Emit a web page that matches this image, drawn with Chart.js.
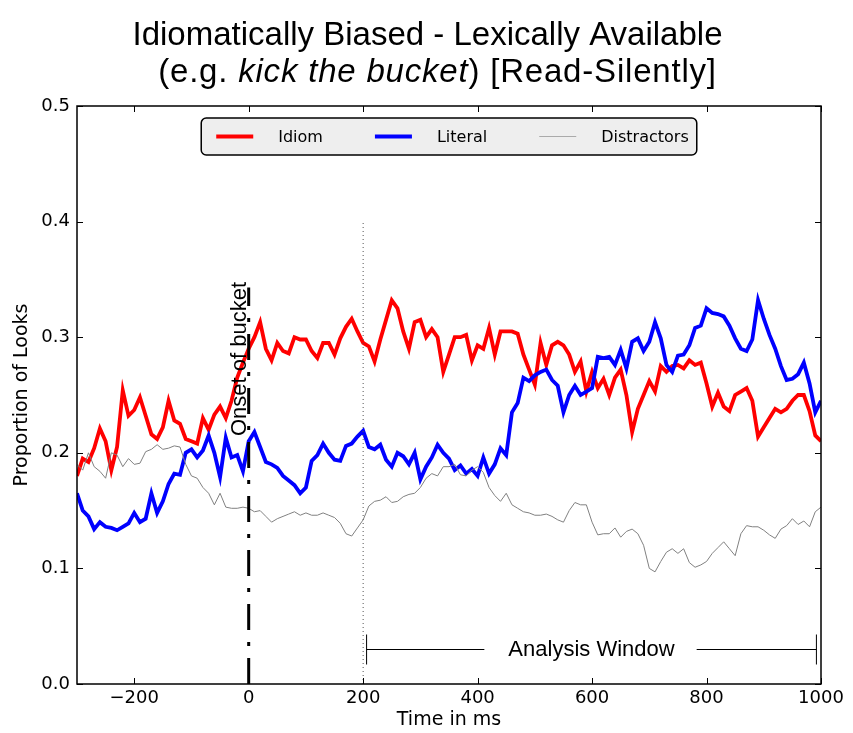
<!DOCTYPE html>
<html>
<head>
<meta charset="utf-8">
<script src="https://cdn.jsdelivr.net/npm/chart.js@4.4.0/dist/chart.umd.min.js"></script>
<style>
  body { margin: 0; background: #ffffff; }
  #wrap { width: 853px; height: 733px; }
</style>
</head>
<body>
<div id="wrap"><canvas id="lookChart"></canvas></div>
<script>
// time bins (ms), every 10 ms
const times = [
  -300, -290, -280, -270, -260, -250, -240, -230, -220, -210, -200, -190, -180, -170, -160, -150, -140, -130, -120, -110, -100, -90,
  -80, -70, -60, -50, -40, -30, -20, -10, 0, 10, 20, 30, 40, 50, 60, 70, 80, 90, 100, 110, 120, 130,
  140, 150, 160, 170, 180, 190, 200, 210, 220, 230, 240, 250, 260, 270, 280, 290, 300, 310, 320, 330, 340, 350,
  360, 370, 380, 390, 400, 410, 420, 430, 440, 450, 460, 470, 480, 490, 500, 510, 520, 530, 540, 550, 560, 570,
  580, 590, 600, 610, 620, 630, 640, 650, 660, 670, 680, 690, 700, 710, 720, 730, 740, 750, 760, 770, 780,
  790, 800, 810, 820, 830, 840, 850, 860, 870, 880, 890, 900, 910, 920, 930, 940, 950, 960, 970, 980, 990, 1000
];

const idiom = [
  0.180, 0.195, 0.192, 0.204, 0.221, 0.210, 0.185, 0.205, 0.254, 0.232, 0.237, 0.248, 0.232, 0.216, 0.212, 0.222, 0.245, 0.228, 0.225, 0.212, 0.210, 0.208,
  0.230, 0.220, 0.233, 0.240, 0.230, 0.245, 0.265, 0.278, 0.290, 0.300, 0.313, 0.290, 0.280, 0.295, 0.288, 0.286, 0.300, 0.298, 0.298, 0.288, 0.282, 0.295,
  0.295, 0.285, 0.299, 0.309, 0.316, 0.305, 0.295, 0.292, 0.279, 0.298, 0.315, 0.332, 0.325, 0.305, 0.290, 0.313, 0.315, 0.300, 0.307, 0.300, 0.270, 0.285,
  0.300, 0.300, 0.302, 0.280, 0.293, 0.290, 0.308, 0.285, 0.305, 0.305, 0.305, 0.303, 0.285, 0.272, 0.259, 0.295, 0.276, 0.293, 0.296, 0.293, 0.285, 0.270,
  0.279, 0.253, 0.270, 0.256, 0.264, 0.250, 0.265, 0.272, 0.250, 0.218, 0.238, 0.250, 0.262, 0.253, 0.275, 0.270, 0.275, 0.276, 0.273, 0.280, 0.276,
  0.278, 0.260, 0.240, 0.252, 0.240, 0.236, 0.250, 0.253, 0.256, 0.245, 0.214, 0.222, 0.230, 0.238, 0.235, 0.238, 0.245, 0.250, 0.250, 0.236, 0.215, 0.210
];

const literal = [
  0.165, 0.150, 0.145, 0.134, 0.140, 0.136, 0.135, 0.133, 0.136, 0.139, 0.148, 0.140, 0.143, 0.165, 0.148, 0.158, 0.173, 0.182, 0.181, 0.200, 0.203, 0.196,
  0.202, 0.215, 0.200, 0.179, 0.213, 0.196, 0.198, 0.184, 0.210, 0.218, 0.205, 0.192, 0.190, 0.187, 0.180, 0.176, 0.172, 0.165, 0.170, 0.193, 0.198, 0.208,
  0.200, 0.194, 0.193, 0.206, 0.208, 0.214, 0.219, 0.205, 0.203, 0.207, 0.194, 0.188, 0.200, 0.197, 0.190, 0.200, 0.177, 0.188, 0.196, 0.207, 0.200, 0.195,
  0.185, 0.189, 0.182, 0.186, 0.180, 0.196, 0.182, 0.190, 0.204, 0.198, 0.235, 0.243, 0.265, 0.262, 0.267, 0.270, 0.272, 0.263, 0.258, 0.235, 0.250, 0.258,
  0.250, 0.253, 0.256, 0.283, 0.282, 0.283, 0.276, 0.289, 0.273, 0.296, 0.299, 0.288, 0.296, 0.313, 0.299, 0.276, 0.270, 0.284, 0.285, 0.293, 0.308,
  0.310, 0.325, 0.321, 0.320, 0.318, 0.310, 0.299, 0.290, 0.288, 0.298, 0.332, 0.316, 0.302, 0.290, 0.275, 0.263, 0.264, 0.268, 0.278, 0.260, 0.235, 0.245
];

const distractors = [
  0.190, 0.185, 0.200, 0.188, 0.184, 0.178, 0.200, 0.198, 0.188, 0.195, 0.190, 0.191, 0.201, 0.203, 0.207, 0.203, 0.204, 0.206, 0.205, 0.190, 0.180, 0.178,
  0.170, 0.165, 0.155, 0.165, 0.153, 0.152, 0.152, 0.153, 0.152, 0.149, 0.150, 0.145, 0.140, 0.143, 0.145, 0.147, 0.149, 0.146, 0.148, 0.146, 0.146, 0.148,
  0.146, 0.144, 0.139, 0.130, 0.128, 0.135, 0.142, 0.154, 0.158, 0.159, 0.162, 0.157, 0.158, 0.162, 0.164, 0.165, 0.170, 0.178, 0.182, 0.180, 0.188, 0.188,
  0.190, 0.181, 0.180, 0.185, 0.188, 0.183, 0.170, 0.163, 0.158, 0.165, 0.155, 0.152, 0.149, 0.148, 0.146, 0.146, 0.147, 0.145, 0.142, 0.140, 0.150, 0.157,
  0.155, 0.155, 0.140, 0.129, 0.130, 0.130, 0.135, 0.127, 0.132, 0.134, 0.130, 0.120, 0.100, 0.097, 0.106, 0.114, 0.117, 0.113, 0.117, 0.105, 0.101,
  0.103, 0.106, 0.113, 0.118, 0.123, 0.117, 0.111, 0.130, 0.137, 0.136, 0.136, 0.133, 0.129, 0.126, 0.134, 0.137, 0.143, 0.138, 0.141, 0.136, 0.149, 0.153
];

const seriesLabels = ["Idiom", "Literal", "Distractors"];
const xTickValues = [-200, 0, 200, 400, 600, 800, 1000];
const yTickValues = [0.0, 0.1, 0.2, 0.3, 0.4, 0.5];

// annotations (data units)
const onsetTime = 0;
const onsetTop = 0.343;
const onsetLabel = "Onset of bucket";
const onsetLabelY = 0.2145;
const windowMark = 200;
const windowMarkTop = 0.4;
const analysisStart = 206;
const analysisEnd = 992;
const analysisY = 0.030;
const analysisLabel = "Analysis Window";

const titleLine1 = "Idiomatically Biased - Lexically Available";
const titleLine2 = ["(e.g. ", "kick the bucket", ") [Read-Silently]"];

const SANS = "'Liberation Sans', Arial, sans-serif";
const DEJA = "'DejaVu Sans', sans-serif";

function toPoints(values) {
  return values.map((v, i) => ({ x: times[i], y: v }));
}

const overlay = {
  id: "overlay",
  afterDraw(chart) {
    const ctx = chart.ctx;
    const area = chart.chartArea;
    const xs = chart.scales.x;
    const ys = chart.scales.y;

    ctx.save();

    // frame + inward ticks
    ctx.strokeStyle = "#000";
    ctx.lineWidth = 1.5;
    ctx.strokeRect(area.left, area.top, area.right - area.left, area.bottom - area.top);
    ctx.lineWidth = 1;
    ctx.beginPath();
    xTickValues.forEach(v => {
      const px = Math.round(xs.getPixelForValue(v)) + 0.5;
      ctx.moveTo(px, area.bottom); ctx.lineTo(px, area.bottom - 6);
      ctx.moveTo(px, area.top); ctx.lineTo(px, area.top + 6);
    });
    yTickValues.forEach(v => {
      const py = Math.round(ys.getPixelForValue(v)) + 0.5;
      ctx.moveTo(area.left, py); ctx.lineTo(area.left + 6, py);
      ctx.moveTo(area.right, py); ctx.lineTo(area.right - 6, py);
    });
    ctx.stroke();

    // title
    ctx.fillStyle = "#000";
    ctx.textBaseline = "alphabetic";
    ctx.textAlign = "left";
    const cx = chart.width / 2 + 1;
    ctx.font = "33px " + SANS;
    const w1 = ctx.measureText(titleLine1).width;
    ctx.fillText(titleLine1, cx - w1 / 2, 45);
    ctx.letterSpacing = "0.8px";
    const fonts = ["33px " + SANS, "italic 33px " + SANS, "33px " + SANS];
    let total = 0;
    const widths = titleLine2.map((t, i) => { ctx.font = fonts[i]; const w = ctx.measureText(t).width; total += w; return w; });
    let tx = cx + 10 - total / 2;
    titleLine2.forEach((t, i) => { ctx.font = fonts[i]; ctx.fillText(t, tx, 82); tx += widths[i]; });
    ctx.letterSpacing = "0px";

    // onset label
    ctx.save();
    ctx.translate(xs.getPixelForValue(onsetTime) - 3, ys.getPixelForValue(onsetLabelY));
    ctx.rotate(-Math.PI / 2);
    ctx.font = "22px " + SANS;
    ctx.fillText(onsetLabel, 0, 0);
    ctx.restore();

    // analysis window
    const ax0 = xs.getPixelForValue(analysisStart);
    const ax1 = xs.getPixelForValue(analysisEnd);
    const ay = Math.round(ys.getPixelForValue(analysisY)) + 0.5;
    ctx.font = "22px " + SANS;
    const aw = ctx.measureText(analysisLabel).width;
    const amid = (ax0 + ax1) / 2;
    ctx.strokeStyle = "#000";
    ctx.lineWidth = 1;
    ctx.beginPath();
    ctx.moveTo(ax0, ay); ctx.lineTo(amid - aw / 2 - 24, ay);
    ctx.moveTo(amid + aw / 2 + 22, ay); ctx.lineTo(ax1, ay);
    ctx.moveTo(ax0, ay - 15); ctx.lineTo(ax0, ay + 15);
    ctx.moveTo(ax1, ay - 15); ctx.lineTo(ax1, ay + 15);
    ctx.stroke();
    ctx.textAlign = "center";
    ctx.textBaseline = "middle";
    ctx.fillText(analysisLabel, amid, ay);

    // legend
    const items = chart.data.datasets.filter(d => seriesLabels.includes(d.label));
    ctx.font = "16px " + DEJA;
    const pad = 15, sample = 37, gap = 25, colGap = 52, padR = 8, h = 37;
    let lw = pad + padR;
    items.forEach((d, i) => { lw += sample + gap + ctx.measureText(d.label).width + (i ? colGap : 0); });
    const lx = (area.left + area.right) / 2 - lw / 2;
    const ly = area.top + 12;
    ctx.beginPath();
    ctx.roundRect(lx, ly, lw, h, 5);
    ctx.fillStyle = "#eeeeee";
    ctx.fill();
    ctx.strokeStyle = "#000";
    ctx.lineWidth = 1.5;
    ctx.stroke();
    let x = lx + pad;
    const cy = ly + h / 2;
    ctx.textAlign = "left";
    ctx.textBaseline = "middle";
    items.forEach(d => {
      ctx.beginPath();
      ctx.strokeStyle = d.legendColor || d.borderColor;
      ctx.lineWidth = d.borderWidth;
      ctx.moveTo(x, cy); ctx.lineTo(x + sample, cy);
      ctx.stroke();
      x += sample + gap;
      ctx.fillStyle = "#000";
      ctx.fillText(d.label, x, cy + 1);
      x += ctx.measureText(d.label).width + colGap;
    });

    ctx.restore();
  }
};

const tickFont = { family: DEJA, size: 18 };
const titleFont = { family: DEJA, size: 19 };

new Chart(document.getElementById("lookChart"), {
  type: "line",
  data: {
    datasets: [
      { label: "Idiom", data: toPoints(idiom), borderColor: "#ff0000", borderWidth: 3.8, pointRadius: 0, tension: 0, order: 3 },
      { label: "Literal", data: toPoints(literal), borderColor: "#0000ff", borderWidth: 3.8, pointRadius: 0, tension: 0, order: 2 },
      { label: "Distractors", data: toPoints(distractors), borderColor: "#808080", legendColor: "#aaaaaa", borderWidth: 1, pointRadius: 0, tension: 0, order: 1 },
      { label: "onset", data: [{ x: onsetTime, y: 0 }, { x: onsetTime, y: onsetTop }], borderColor: "#000", borderWidth: 3, borderDash: [26, 12, 4, 12], pointRadius: 0, order: 0 },
      { label: "mark", data: [{ x: windowMark, y: 0 }, { x: windowMark, y: windowMarkTop }], borderColor: "#555", borderWidth: 1, borderDash: [1, 3], pointRadius: 0, order: 0 }
    ]
  },
  options: {
    responsive: true,
    maintainAspectRatio: false,
    animation: false,
    layout: { padding: { top: 106, right: 32, left: 0, bottom: 0 } },
    plugins: {
      legend: { display: false },
      tooltip: { enabled: false }
    },
    scales: {
      x: {
        type: "linear",
        min: -300,
        max: 1000,
        afterBuildTicks: s => { s.ticks = xTickValues.map(v => ({ value: v })); },
        afterFit: s => { s.height = 49; },
        grid: { display: false, drawTicks: false },
        border: { display: false },
        ticks: {
          padding: 4,
          color: "#000",
          font: tickFont,
          maxRotation: 0,
          callback: v => String(v).replace("-", "\u2212")
        },
        title: { display: true, text: "Time in ms", color: "#000", font: titleFont, padding: { top: 0, bottom: 2 } }
      },
      y: {
        min: 0,
        max: 0.5,
        afterBuildTicks: s => { s.ticks = yTickValues.map(v => ({ value: v })); },
        afterFit: s => { s.width = 77; },
        grid: { display: false, drawTicks: false },
        border: { display: false },
        ticks: {
          padding: 7,
          color: "#000",
          font: tickFont,
          callback: v => Number(v).toFixed(1)
        },
        title: { display: true, text: "Proportion of Looks", color: "#000", font: titleFont, padding: { top: 11, bottom: 0 } }
      }
    }
  },
  plugins: [overlay]
});
</script>
</body>
</html>
